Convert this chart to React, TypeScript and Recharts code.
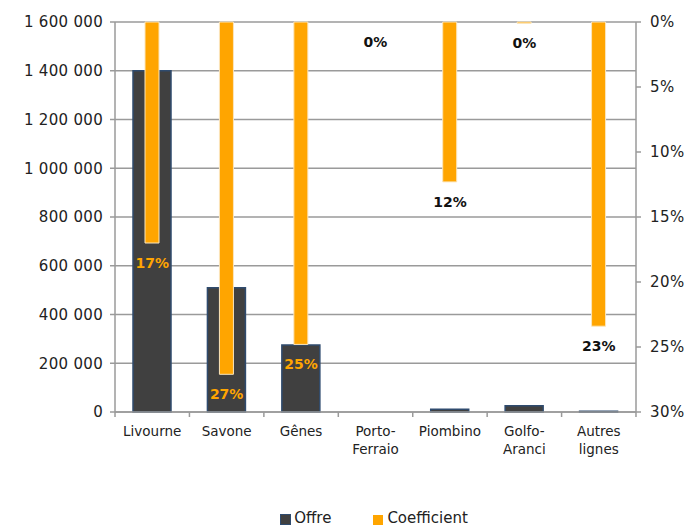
import React from 'react';
import {
  ComposedChart,
  Bar,
  Line,
  XAxis,
  YAxis,
  CartesianGrid,
  Legend,
  LabelList,
} from 'recharts';

const ports = ['Livourne', 'Savone', 'Gênes', 'Porto-Ferraio', 'Piombino', 'Golfo-Aranci', 'Autres lignes'];
const offre = [1400000, 510000, 275000, 0, 11000, 26000, 3000];
const coefficient = [0.17, 0.271, 0.248, 0, 0.123, 0.001, 0.234];
const coefLabels = ['17%', '27%', '25%', '0%', '12%', '0%', '23%'];
const leftTicks = [0, 200000, 400000, 600000, 800000, 1000000, 1200000, 1400000, 1600000];
const rightTicks = [0, 0.05, 0.1, 0.15, 0.2, 0.25, 0.3];

const data = ports.map((name, i) => ({
  name,
  offre: offre[i],
  coefficient: coefficient[i],
  label: coefLabels[i],
}));

const FONT = '"DejaVu Sans", sans-serif';
const DARK = '#404040';
const ORANGE = '#FFA500';
const AXIS = '#9a9a9a';

const fmtNumber = (v: number) =>
  String(v).replace(/\B(?=(\d{3})+(?!\d))/g, ' ');

function PortTick(props: any) {
  const { x, y, payload, index } = props;
  const text: string = payload.value;
  const lines = text.includes('-')
    ? [text.slice(0, text.indexOf('-') + 1), text.slice(text.indexOf('-') + 1)]
    : text.split(' ');
  const half = 74.4 / 2;
  return (
    <g>
      <line x1={x - half} x2={x - half} y1={y - 8} y2={y - 3} stroke={AXIS} strokeWidth={1.5} />
      {index === ports.length - 1 && (
        <line x1={x + half} x2={x + half} y1={y - 8} y2={y - 3} stroke={AXIS} strokeWidth={1.5} />
      )}
      {lines.map((l, i) => (
        <text
          key={i}
          x={x}
          y={y + 16 + i * 18}
          textAnchor="middle"
          fontFamily={FONT}
          fontSize={13.5}
          fill="#222"
        >
          {l}
        </text>
      ))}
    </g>
  );
}

function CoefLabel(props: any) {
  const { x, y, index } = props;
  const onDark = offre[index] > 200000;
  return (
    <text
      x={x}
      y={y + 25}
      textAnchor="middle"
      fontFamily={FONT}
      fontWeight="bold"
      fontSize={14}
      fill={onDark ? ORANGE : '#111'}
    >
      {coefLabels[index]}
    </text>
  );
}

function LegendBox() {
  return (
    <div
      style={{
        display: 'flex',
        justifyContent: 'center',
        gap: 42,
        fontFamily: FONT,
        fontSize: 15,
        color: '#222',
        paddingLeft: 56,
      }}
    >
      <span style={{ display: 'flex', alignItems: 'center' }}>
        <span
          style={{
            width: 9,
            height: 9,
            background: DARK,
            border: '1.5px solid #2f4b6e',
            marginRight: 3,
            marginTop: 3,
            display: 'inline-block',
          }}
        />
        Offre
      </span>
      <span style={{ display: 'flex', alignItems: 'center' }}>
        <span
          style={{
            width: 10,
            height: 10,
            background: ORANGE,
            marginRight: 4,
            marginTop: 3,
            display: 'inline-block',
          }}
        />
        Coefficient
      </span>
    </div>
  );
}

export default function App() {
  return (
    <div style={{ position: 'absolute', left: 0, top: 0, background: '#fff' }}>
      <ComposedChart
        width={692}
        height={526}
        data={data}
        margin={{ top: 22, right: 6, left: 10, bottom: 0 }}
      >
        <CartesianGrid vertical={false} stroke={AXIS} strokeWidth={1.5} yAxisId="left" />
        <XAxis
          dataKey="name"
          xAxisId="a"
          stroke={AXIS}
          strokeWidth={1.5}
          tickLine={false}
          tick={<PortTick />}
          interval={0}
          height={78}
        />
        <XAxis dataKey="name" xAxisId="b" hide />
        <YAxis
          yAxisId="left"
          domain={[0, 1600000]}
          ticks={leftTicks}
          tickFormatter={fmtNumber}
          stroke={AXIS}
          strokeWidth={1.5}
          tickSize={5}
          tickMargin={7}
          width={105}
          tick={{ fill: '#222', fontSize: 15, fontFamily: FONT, letterSpacing: 0.3 }}
        />
        <YAxis
          yAxisId="right"
          orientation="right"
          reversed
          domain={[0, 0.3]}
          ticks={rightTicks}
          tickFormatter={(v: number) => `${Math.round(v * 100)}%`}
          stroke={AXIS}
          strokeWidth={1.5}
          tickSize={5}
          tickMargin={9}
          width={50}
          tick={{ fill: '#222', fontSize: 15, fontFamily: FONT, letterSpacing: 0.5 }}
        />
        <Legend
          verticalAlign="bottom"
          height={36}
          content={() => <LegendBox />}
          wrapperStyle={{ top: 509, left: 0, width: 692 }}
        />
        <Bar
          dataKey="offre"
          name="Offre"
          xAxisId="a"
          yAxisId="left"
          barSize={38}
          fill={DARK}
          stroke="#2f4b6e"
          strokeWidth={1.5}
          isAnimationActive={false}
        />
        <Bar
          dataKey="coefficient"
          name="Coefficient"
          xAxisId="b"
          yAxisId="right"
          barSize={14}
          fill={ORANGE}
          stroke="#fbe6bd"
          strokeWidth={1}
          isAnimationActive={false}
        />
        <Line
          dataKey="coefficient"
          xAxisId="b"
          yAxisId="right"
          stroke="none"
          dot={false}
          activeDot={false}
          legendType="none"
          isAnimationActive={false}
        >
          <LabelList dataKey="label" content={<CoefLabel />} />
        </Line>
      </ComposedChart>
    </div>
  );
}
